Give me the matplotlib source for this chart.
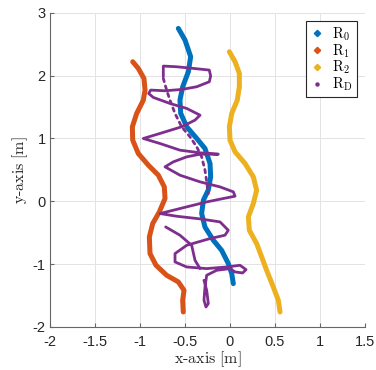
import matplotlib
matplotlib.use("Agg")
import matplotlib.pyplot as plt
from matplotlib.lines import Line2D

plt.rcParams['mathtext.fontset'] = 'cm'

# ---- data (metres) ----
r0_x = [-0.574, -0.50, -0.437, -0.463, -0.526, -0.556, -0.548, -0.481, -0.370, -0.278, -0.222,
        -0.215, -0.241, -0.296, -0.315, -0.278, -0.185, -0.093, -0.019, 0.019, 0.037]
r0_y = [2.75, 2.565, 2.30, 2.06, 1.82, 1.61, 1.40, 1.185, 1.0, 0.84, 0.60,
        0.39, 0.18, 0.017, -0.195, -0.41, -0.62, -0.78, -0.99, -1.15, -1.31]

r1_x = [-1.081, -1.019, -0.956, -0.944, -0.963, -1.037, -1.085, -1.081, -1.019, -0.907, -0.796,
        -0.730, -0.722, -0.785, -0.859, -0.896, -0.889, -0.822, -0.704, -0.574, -0.511, -0.526, -0.519]
r1_y = [2.22, 2.114, 1.954, 1.769, 1.609, 1.397, 1.185, 0.972, 0.76, 0.574, 0.415,
        0.229, 0.044, -0.169, -0.355, -0.567, -0.832, -1.018, -1.177, -1.283, -1.416, -1.575, -1.761]

r2_x = [-0.007, 0.056, 0.104, 0.104, 0.081, 0.019, -0.007, 0.0, 0.056, 0.167, 0.259,
        0.296, 0.259, 0.204, 0.215, 0.296, 0.352, 0.407, 0.481, 0.537, 0.556]
r2_y = [2.379, 2.22, 2.034, 1.822, 1.609, 1.397, 1.185, 0.972, 0.787, 0.601, 0.389,
        0.176, -0.036, -0.248, -0.461, -0.673, -0.885, -1.098, -1.363, -1.575, -1.761]

rd_x = [-0.741, -0.741, -0.593, -0.407, -0.230, -0.215, -0.230, -0.370, -0.537, -0.722, -0.881,
        -0.904, -0.852, -0.667, -0.481, -0.333, -0.389, -0.537, -0.778, -0.963, -0.778, -0.556,
        -0.333, -0.130, -0.333, -0.481, -0.630, -0.722, -0.556, -0.333, -0.111, 0.037, 0.056,
        -0.074, -0.259, -0.481, -0.778, -0.593, -0.333, -0.111, -0.019, -0.056, -0.222, -0.481,
        -0.611, -0.611, -0.481, -0.259, -0.037, 0.111, 0.178, 0.141, 0.056, 0.0, -0.148, -0.259,
        -0.278, -0.289, -0.267, -0.241, -0.259, -0.289]
rd_y = [1.981, 2.151, 2.140, 2.114, 2.087, 1.992, 1.901, 1.822, 1.779, 1.758, 1.769,
        1.715, 1.652, 1.556, 1.477, 1.370, 1.291, 1.185, 1.079, 0.999, 0.919, 0.813,
        0.771, 0.749, 0.749, 0.707, 0.627, 0.548, 0.415, 0.309, 0.229, 0.150, 0.081,
        0.044, -0.010, -0.089, -0.195, -0.238, -0.280, -0.328, -0.461, -0.540, -0.593, -0.700,
        -0.832, -0.965, -1.045, -1.071, -1.045, -1.018, -1.087, -1.140, -1.124, -1.071, -1.098, -1.177,
        -1.363, -1.575, -1.682, -1.628, -1.416, -1.257]

rd_branch_x = [-0.715, -0.556, -0.426, -0.389, -0.333]
rd_branch_y = [-0.408, -0.540, -0.700, -0.938, -1.071]

rd_sparse_x = [-0.741, -0.704, -0.667, -0.611, -0.537, -0.444, -0.370, -0.315, -0.278, -0.259, -0.241]
rd_sparse_y = [1.954, 1.769, 1.609, 1.397, 1.185, 1.025, 0.866, 0.707, 0.495, 0.309, 0.123]

labels = [r'$\mathrm{R}_0$', r'$\mathrm{R}_1$', r'$\mathrm{R}_2$', r'$\mathrm{R}_\mathrm{D}$']
xticks = [-2, -1.5, -1, -0.5, 0, 0.5, 1, 1.5]
xtick_labels = ['-2', '-1.5', '-1', '-0.5', '0', '0.5', '1', '1.5']
yticks = [-2, -1, 0, 1, 2, 3]
ytick_labels = ['-2', '-1', '0', '1', '2', '3']

colors = ['#0072BD', '#D95319', '#EDB120', '#7E2F8E']

fig = plt.figure(figsize=(3.76, 3.70), dpi=100)
ax = fig.add_axes([50/376, 1 - 327/370, 315/376, (327 - 12.7)/370])

kw = dict(solid_capstyle='round', solid_joinstyle='round')
ax.plot(r0_x, r0_y, color=colors[0], lw=3.6, **kw)
ax.plot(r1_x, r1_y, color=colors[1], lw=3.6, **kw)
ax.plot(r2_x, r2_y, color=colors[2], lw=3.6, **kw)
ax.plot(rd_sparse_x, rd_sparse_y, color=colors[3], lw=2.0, linestyle=(0, (1.2, 1.6)),
        dash_capstyle='round')
ax.plot(rd_x, rd_y, color=colors[3], lw=2.0, **kw)
ax.plot(rd_branch_x, rd_branch_y, color=colors[3], lw=2.0, **kw)

ax.set_xlim(-2, 1.5)
ax.set_ylim(-2, 3)
ax.set_xticks(xticks)
ax.set_xticklabels(xtick_labels)
ax.set_yticks(yticks)
ax.set_yticklabels(ytick_labels)
ax.grid(True, color='#e3e3e3', lw=0.7)
ax.set_axisbelow(True)
for s in ['top', 'right']:
    ax.spines[s].set_visible(False)
for s in ['left', 'bottom']:
    ax.spines[s].set_color('#666666')
    ax.spines[s].set_linewidth(0.8)
ax.tick_params(direction='in', length=3, width=0.8, color='#666666',
               labelsize=10.5, labelcolor='#262626')
ax.tick_params(axis='x', pad=6)
ax.tick_params(axis='y', pad=3)
for t in ax.get_xticklabels() + ax.get_yticklabels():
    t.set_fontfamily('Liberation Sans')

ax.set_xlabel(r'$\mathrm{x}$' + '-' + r'$\mathrm{axis\ [m]}$', fontsize=11.5, color='#262626', labelpad=0)
ax.set_ylabel(r'$\mathrm{y}$' + '-' + r'$\mathrm{axis\ [m]}$', fontsize=11.5, color='#262626', labelpad=2)
ax.xaxis.label.set_fontfamily('cmr10')
ax.yaxis.label.set_fontfamily('cmr10')

handles = [Line2D([], [], ls='none', marker='D', markersize=3.2, color=colors[0]),
           Line2D([], [], ls='none', marker='D', markersize=3.2, color=colors[1]),
           Line2D([], [], ls='none', marker='D', markersize=3.2, color=colors[2]),
           Line2D([], [], ls='none', marker='o', markersize=2.2, color=colors[3])]
leg = ax.legend(handles, labels, loc='upper right', bbox_to_anchor=(357/376, 1 - 21/370),
                bbox_transform=fig.transFigure, borderaxespad=0, fancybox=False,
                framealpha=1, edgecolor='#262626', fontsize=10.5, handlelength=0.9,
                handletextpad=0.6, labelspacing=-0.05, borderpad=0.3)
leg.get_frame().set_linewidth(0.8)

fig.savefig('out.png', dpi=100)
